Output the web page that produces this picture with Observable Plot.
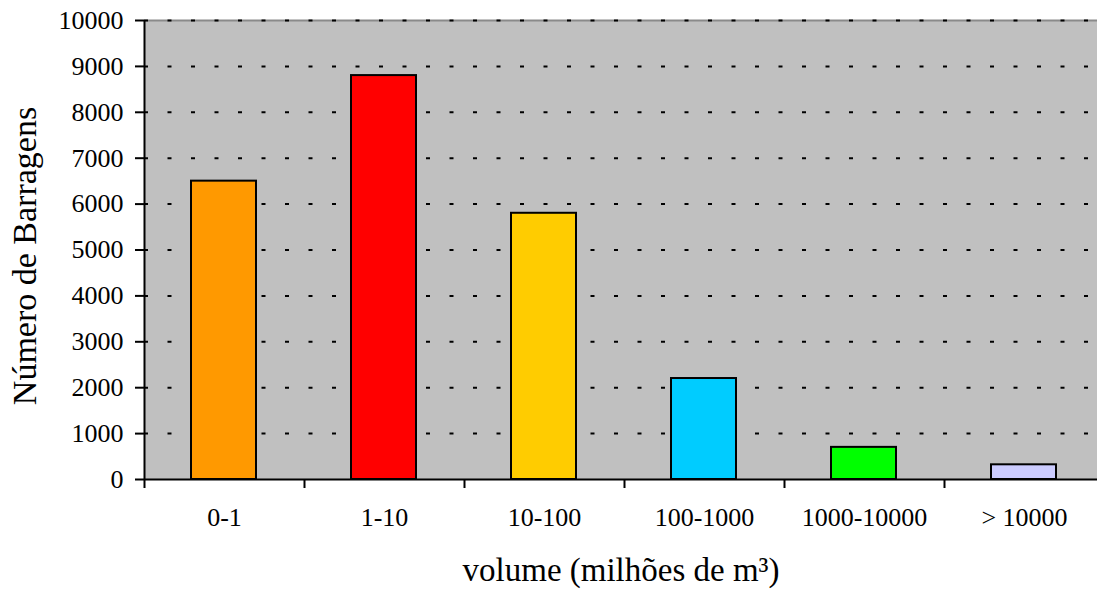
<!DOCTYPE html>
<html>
<head>
<meta charset="utf-8">
<script src="https://cdn.jsdelivr.net/npm/d3@7"></script>
<script src="https://cdn.jsdelivr.net/npm/@observablehq/plot@0.6"></script>
<style>
  html, body { margin: 0; padding: 0; background: #fff; }
  #chart svg { display: block; overflow: hidden; }
  #chart svg, #chart svg text { font-family: 'Liberation Serif', 'Times New Roman', serif !important; }
</style>
</head>
<body>
<div id="chart"></div>
<script>
const categories = ["0-1", "1-10", "10-100", "100-1000", "1000-10000", "> 10000"];
const counts = [6500, 8800, 5800, 2200, 700, 320];
const barColors = ["#FF9900", "#FF0000", "#FFCC00", "#00CCFF", "#00FF00", "#CCCCFF"];
const yTicks = [0, 1000, 2000, 3000, 4000, 5000, 6000, 7000, 8000, 9000, 10000];
const gridValues = [1000, 2000, 3000, 4000, 5000, 6000, 7000, 8000, 9000, 10000];
const yTitle = "Número de Barragens";
const xTitle = "volume (milhões de m³)";

const data = categories.map((c, i) => ({category: c, count: counts[i], color: barColors[i]}));

const W = 1097, H = 594;
const mLeft = 144, mTop = 20, mBottom = 115;
const xRange = [mLeft, 1104];
const step = (xRange[1] - xRange[0]) / categories.length;

const chart = Plot.plot({
  width: W,
  height: H,
  marginLeft: mLeft,
  marginRight: 0,
  marginTop: mTop,
  marginBottom: mBottom,
  style: {fontSize: "26px", color: "#000", background: "#fff"},
  x: {domain: categories, range: xRange, padding: 0, label: null},
  y: {domain: [0, 10000], label: null},
  marks: [
    Plot.frame({fill: "#C0C0C0", stroke: null}),
    Plot.ruleY([10000], {stroke: "#8a8a8a", strokeWidth: 2}),
    Plot.ruleY(gridValues, {stroke: "#000", strokeWidth: 2, strokeDasharray: "4,19.5", strokeDashoffset: 0}),
    Plot.barY(data, {x: "category", y: "count", fill: "color", stroke: "#000", strokeWidth: 2, insetLeft: 47, insetRight: 48}),
    Plot.ruleY([0], {stroke: "#000", strokeWidth: 2}),
    Plot.ruleX([categories[0]], {dx: -step / 2, y1: 10000, y2: 0, insetBottom: -9, stroke: "#000", strokeWidth: 2}),
    Plot.ruleX(categories.slice(1), {x: d => d, dx: -step / 2, y1: 0, y2: 0, insetBottom: -9, stroke: "#000", strokeWidth: 2}),
    Plot.axisY({ticks: yTicks, tickSize: 9, tickPadding: 12, strokeWidth: 2, tickFormat: d => String(d), fontSize: 26, label: null}),
    Plot.axisX({tickSize: 0, tickPadding: 28.5, fontSize: 26, label: null}),
    Plot.text([yTitle], {frameAnchor: "left", dx: -119, dy: 6, rotate: -90, textAnchor: "middle", fontSize: 34, text: d => d}),
    Plot.text([xTitle], {frameAnchor: "bottom", lineAnchor: "bottom", dy: 101, textAnchor: "middle", fontSize: 33, text: d => d})
  ]
});
document.getElementById("chart").appendChild(chart);
</script>
</body>
</html>
